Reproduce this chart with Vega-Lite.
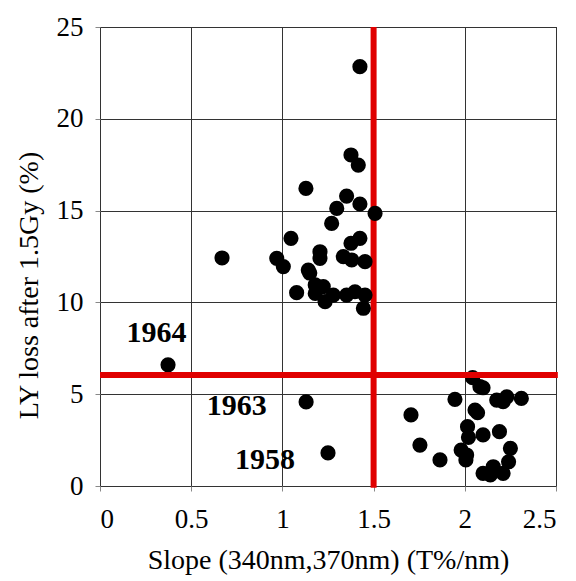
{
  "$schema": "https://vega.github.io/schema/vega-lite/v6.json",
  "width": 456,
  "height": 459,
  "autosize": "none",
  "padding": {"left": 100, "top": 27, "right": 20, "bottom": 95},
  "background": "white",
  "config": {
    "view": {"stroke": "black", "strokeWidth": 1},
    "font": "Liberation Serif",
    "axis": {
      "grid": true,
      "gridColor": "#333333",
      "gridWidth": 1,
      "gridOpacity": 1,
      "domain": false,
      "tickColor": "#888888",
      "tickSize": 5,
      "labelFont": "Liberation Serif",
      "labelFontSize": 27,
      "labelColor": "black",
      "titleFont": "Liberation Serif",
      "titleFontWeight": "normal",
      "titleColor": "black"
    }
  },
  "datasets": {
    "pts": [
      {"slope": 0.373, "loss": 6.6},
      {"slope": 0.669, "loss": 12.42},
      {"slope": 0.969, "loss": 12.4},
      {"slope": 1.005, "loss": 11.95},
      {"slope": 1.047, "loss": 13.49},
      {"slope": 1.078, "loss": 10.53},
      {"slope": 1.129, "loss": 16.21},
      {"slope": 1.142, "loss": 11.76},
      {"slope": 1.15, "loss": 11.6},
      {"slope": 1.18, "loss": 10.95},
      {"slope": 1.18, "loss": 10.49},
      {"slope": 1.206, "loss": 12.76},
      {"slope": 1.206, "loss": 12.4},
      {"slope": 1.224, "loss": 10.86},
      {"slope": 1.234, "loss": 10.04},
      {"slope": 1.27, "loss": 14.3},
      {"slope": 1.279, "loss": 10.4},
      {"slope": 1.298, "loss": 15.12},
      {"slope": 1.334, "loss": 12.49},
      {"slope": 1.352, "loss": 15.79},
      {"slope": 1.352, "loss": 10.4},
      {"slope": 1.376, "loss": 18.03},
      {"slope": 1.376, "loss": 13.22},
      {"slope": 1.38, "loss": 12.31},
      {"slope": 1.398, "loss": 10.58},
      {"slope": 1.416, "loss": 17.48},
      {"slope": 1.425, "loss": 22.84},
      {"slope": 1.425, "loss": 15.36},
      {"slope": 1.425, "loss": 13.49},
      {"slope": 1.453, "loss": 12.22},
      {"slope": 1.453, "loss": 10.4},
      {"slope": 1.444, "loss": 9.68},
      {"slope": 1.508, "loss": 14.85},
      {"slope": 1.13, "loss": 4.58},
      {"slope": 1.25, "loss": 1.8},
      {"slope": 1.705, "loss": 3.87},
      {"slope": 1.754, "loss": 2.23},
      {"slope": 1.864, "loss": 1.42},
      {"slope": 1.946, "loss": 4.72},
      {"slope": 1.98, "loss": 1.96},
      {"slope": 2.006, "loss": 1.42},
      {"slope": 2.01, "loss": 1.69},
      {"slope": 2.015, "loss": 3.23},
      {"slope": 2.02, "loss": 2.65},
      {"slope": 2.043, "loss": 5.9},
      {"slope": 2.056, "loss": 4.14},
      {"slope": 2.07, "loss": 3.99},
      {"slope": 2.083, "loss": 5.41},
      {"slope": 2.1, "loss": 5.35},
      {"slope": 2.1, "loss": 2.78},
      {"slope": 2.1, "loss": 0.69},
      {"slope": 2.14, "loss": 0.6},
      {"slope": 2.156, "loss": 1.05},
      {"slope": 2.175, "loss": 4.68},
      {"slope": 2.19, "loss": 2.96},
      {"slope": 2.21, "loss": 4.59},
      {"slope": 2.21, "loss": 0.69},
      {"slope": 2.23, "loss": 4.86},
      {"slope": 2.24, "loss": 1.32},
      {"slope": 2.25, "loss": 2.05},
      {"slope": 2.31, "loss": 4.77}
    ],
    "labels": [
      {"slope": 0.31, "loss": 8.33, "text": "1964"},
      {"slope": 0.75, "loss": 4.36, "text": "1963"},
      {"slope": 0.905, "loss": 1.42, "text": "1958"}
    ]
  },
  "layer": [
    {
      "data": {"values": [{"slope": 1.5, "lo": -0.1, "hi": 25}]},
      "mark": {"type": "rule", "color": "#e00000", "strokeWidth": 6},
      "encoding": {
        "x": {"field": "slope", "type": "quantitative", "scale": {"domain": [0, 2.5], "nice": false},
          "axis": {"values": [0, 0.5, 1, 1.5, 2, 2.5], "labelExpr": "datum.value + ''", "title": "Slope (340nm,370nm) (T%/nm)", "titleFontSize": 28, "labelPadding": 15, "titlePadding": 14}},
        "y": {"field": "lo", "type": "quantitative", "scale": {"domain": [0, 25], "nice": false},
          "axis": {"values": [0, 5, 10, 15, 20, 25], "title": "LY loss after 1.5Gy (%)", "titleFontSize": 28, "titleY": 258, "labelPadding": 12, "titlePadding": 13}},
        "y2": {"field": "hi"}
      }
    },
    {
      "data": {"name": "pts"},
      "mark": {"type": "circle", "color": "black", "opacity": 1, "size": 230},
      "encoding": {
        "x": {"field": "slope", "type": "quantitative"},
        "y": {"field": "loss", "type": "quantitative"}
      }
    },
    {
      "data": {"values": [{"lo": 0, "hi": 2.51, "loss": 6.05}]},
      "mark": {"type": "rule", "color": "#e00000", "strokeWidth": 6},
      "encoding": {
        "x": {"field": "lo", "type": "quantitative"},
        "x2": {"field": "hi"},
        "y": {"field": "loss", "type": "quantitative"}
      }
    },
    {
      "data": {"name": "labels"},
      "mark": {"type": "text", "font": "Liberation Serif", "fontSize": 30, "fontWeight": "bold", "color": "black"},
      "encoding": {
        "x": {"field": "slope", "type": "quantitative"},
        "y": {"field": "loss", "type": "quantitative"},
        "text": {"field": "text"}
      }
    }
  ]
}
